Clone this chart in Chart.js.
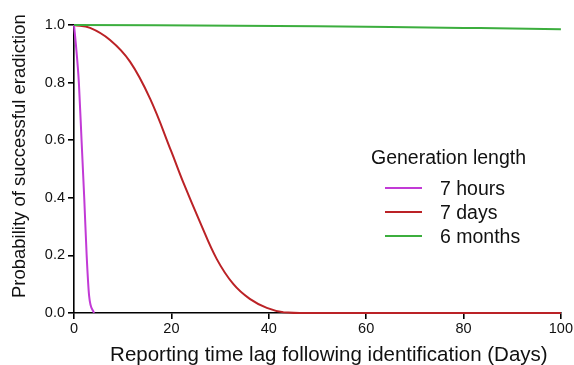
<!DOCTYPE html>
<html>
<head>
<meta charset="utf-8">
<script src="https://cdn.jsdelivr.net/npm/chart.js@4.4.1/dist/chart.umd.min.js"></script>
<style>
  html, body { margin: 0; padding: 0; background: #fff; }
  #wrap { position: relative; width: 574px; height: 365px; }
  #legend { position: absolute; left: 371px; top: 145px; font-family: "Liberation Sans", Arial, sans-serif; color: #111; }
  #legend .title { font-size: 19.5px; height: 24px; line-height: 24px; margin-bottom: 7px; }
  #legend .row { display: flex; align-items: center; height: 24px; font-size: 19.5px; }
  #legend .swatch { width: 37px; height: 2px; margin-left: 14px; margin-right: 18px; }
</style>
</head>
<body>
<div id="wrap">
  <canvas id="c" width="574" height="365"></canvas>
  <div id="legend"></div>
</div>
<script>
// ---- data ----
const seriesNames = ['7 hours', '7 days', '6 months'];
const seriesColors = ['#c23ad6', '#bb2226', '#3cae3e'];

const hoursX = [0, 0.4, 1.0, 1.55, 2.1, 2.6, 3.1, 4.1];
const hoursY = [1.0, 0.93, 0.8, 0.6, 0.4, 0.2, 0.06, 0.0];

const daysX = [0, 3.3, 7.4, 11.5, 15.6, 20, 22.4, 25.9, 29.3, 32.7, 36.1, 39.6, 43, 48, 100];
const daysY = [1.0, 0.99, 0.948, 0.873, 0.745, 0.56, 0.455, 0.315, 0.188, 0.101, 0.049, 0.018, 0.003, 0.0, 0.0];

const monthsX = [0, 50, 65, 80, 90, 100];
const monthsY = [1.0, 0.996, 0.993, 0.99, 0.988, 0.985];

const xTicks = [0, 20, 40, 60, 80, 100];
const yTicks = [0, 0.2, 0.4, 0.6, 0.8, 1.0];

// leading nbsp nudges the titles off-centre like the original
const xTitle = '\u00a0\u00a0\u00a0\u00a0Reporting time lag following identification (Days)';
const yTitle = '\u00a0\u00a0\u00a0\u00a0\u00a0Probability of successful eradiction';
const legendTitle = 'Generation length';

function pts(xs, ys) {
  return xs.map((x, i) => ({ x: x, y: ys[i] }));
}

const FONT = '"Liberation Sans", Arial, sans-serif';
const allX = [hoursX, daysX, monthsX];
const allY = [hoursY, daysY, monthsY];

const datasets = seriesNames.map((name, i) => ({
  label: name,
  data: pts(allX[i], allY[i]),
  borderColor: seriesColors[i],
  borderWidth: 2,
  pointRadius: 0,
  fill: false,
  tension: 0.4,
  cubicInterpolationMode: i === 1 ? 'default' : 'monotone',
  clip: 6,
  order: i === 2 ? 0 : i + 1
}));

new Chart(document.getElementById('c'), {
  type: 'line',
  data: { datasets: datasets },
  options: {
    responsive: false,
    animation: false,
    layout: { padding: { left: 0, right: 12, top: 25, bottom: 0 } },
    plugins: { legend: { display: false }, tooltip: { enabled: false } },
    scales: {
      x: {
        type: 'linear',
        min: 0, max: 100,
        afterFit: s => { s.height = 52; },
        afterBuildTicks: s => { s.ticks = xTicks.map(v => ({ value: v })); },
        border: { display: true, color: '#000', width: 1.6 },
        grid: { drawOnChartArea: false, drawTicks: true, tickLength: 6, color: '#000', lineWidth: 1.6 },
        ticks: { color: '#111', font: { family: FONT, size: 14.5 }, padding: 1, maxRotation: 0 },
        title: { display: true, text: xTitle, color: '#111', font: { family: FONT, size: 20.5 }, padding: { top: 2, bottom: -3 } }
      },
      y: {
        type: 'linear',
        min: 0, max: 1,
        afterFit: s => { s.width = 74; },
        afterBuildTicks: s => { s.ticks = yTicks.map(v => ({ value: v })); },
        border: { display: true, color: '#000', width: 1.6 },
        grid: { drawOnChartArea: false, drawTicks: true, tickLength: 6, color: '#000', lineWidth: 1.6 },
        ticks: { color: '#111', font: { family: FONT, size: 14.5 }, padding: 3, callback: v => v.toFixed(1) },
        title: { display: true, text: yTitle, color: '#111', font: { family: FONT, size: 18.5 }, padding: { top: 9, bottom: 0 } }
      }
    }
  }
});

// html legend built from the series
const lg = document.getElementById('legend');
lg.innerHTML = '<div class="title">' + legendTitle + '</div>' +
  seriesNames.map((n, i) =>
    '<div class="row"><span class="swatch" style="background:' + seriesColors[i] + '"></span>' + n + '</div>'
  ).join('');
</script>
</body>
</html>
